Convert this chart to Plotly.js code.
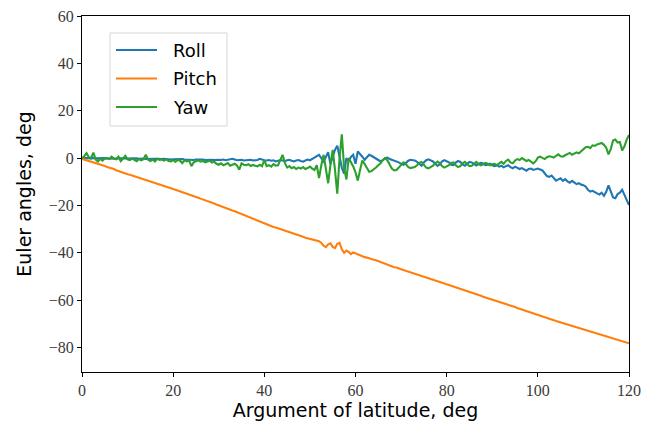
<!DOCTYPE html>
<html>
<head>
<meta charset="utf-8">
<script src="https://cdn.plot.ly/plotly-3.0.1.min.js"></script>
<style>
  html, body { margin: 0; padding: 0; background: #fff; }
  #chart { width: 657px; height: 428px; }
</style>
</head>
<body>
<div id="chart"></div>
<script>
// Sampling grid: argument of latitude, every 0.5 deg from 0 to 120
const STEP_DEG = 0.5;
const N_SAMPLES = 241;

// Roll angle, deg
const roll = [
  0.0, 0.1, -0.1, 0.0, -0.2, 0.1, -0.1, 0.0, -0.2, -0.1, 0.0, -0.1, -0.2, 0.0, -0.1, -0.2, -0.1, 0.0, -0.2, -0.1, -0.2,
  -0.1, -0.3, -0.2, -0.1, -0.3, -0.2, -0.2, -0.4, -0.3, -0.2, -0.4, -0.3, -0.3, -0.5, -0.4, -0.3, -0.5, -0.4, -0.6, -0.5,
  -0.4, -0.6, -0.5, -0.4, -0.6, -0.7, -0.5, -0.6, -0.8, -0.6, -0.5, -0.7, -0.6, -0.8, -0.7, -0.5, -0.7, -0.8, -0.6, -0.7,
  -0.8, -0.6, -0.9, -0.7, -0.8, -0.3, -0.6, -0.9, -0.8, -0.7, -1.0, -0.8, -0.9, -0.7, -1.0, -0.9, -0.8, -0.3, -0.7, -0.9,
  -1.0, -0.8, -1.1, -0.9, -1.4, -1.2, -0.8, -1.0, -1.3, -0.9, -0.7, -1.1, -1.4, -1.0, -0.8, -1.2, -1.5, -1.0, -0.6, -0.9,
  -0.5, 0.2, 0.8, 1.4, 0.0, -1.4, 0.5, 2.5, -2.5, 0.5, 3.5, 5.2, 1.0, -4.0, -6.5, 0.0, -1.2, 0.5, 1.4, -2.4,
  2.8, 1.8, 0.6, -0.7, 0.5, 1.4, 1.0, 0.3, -0.2, -0.8, -1.4, -0.9, 0.0, 0.2, -0.4, -0.7, -0.9, -1.3, -1.8, -2.4,
  -2.8, -2.2, -1.2, -0.7, -0.9, -1.0, -1.6, -2.6, -3.2, -1.8, -0.9, -0.5, -0.9, -1.4, -2.4, -3.3, -2.6, -1.4, -0.9, -1.2,
  -1.8, -2.8, -3.0, -1.9, -1.2, -1.6, -2.7, -3.2, -2.2, -1.6, -1.8, -2.6, -3.1, -2.4, -2.0, -2.3, -3.0, -2.8, -2.4, -3.0,
  -3.4, -3.0, -3.6, -3.2, -3.9, -3.4, -3.0, -3.8, -4.3, -3.6, -4.0, -4.6, -4.2, -4.8, -5.3, -4.6, -4.4, -5.0, -4.7, -4.4,
  -4.8, -5.2, -6.4, -7.6, -7.9, -7.4, -8.4, -9.5, -9.0, -8.5, -9.6, -8.9, -9.8, -10.4, -9.6, -10.2, -11.0, -10.6, -11.2, -11.4,
  -12.0, -13.4, -14.1, -13.8, -14.5, -14.9, -15.4, -14.6, -15.9, -14.2, -11.5, -13.8, -16.6, -16.9, -15.2, -14.6, -13.4, -15.5, -17.8, -19.8
];

// Pitch angle, deg
const pitch = [
  -0.3, -0.6, -0.8, -1.0, -1.4, -1.7, -2.0, -2.5, -2.7, -3.0, -3.3, -3.8, -4.0, -4.4, -4.6, -5.1, -5.5, -5.7, -6.1, -6.5, -6.8,
  -7.0, -7.3, -7.6, -8.0, -8.3, -8.5, -8.9, -9.3, -9.5, -9.8, -10.2, -10.4, -10.8, -11.2, -11.4, -11.7, -12.1, -12.4, -12.6, -13.0,
  -13.4, -13.7, -14.1, -14.3, -14.7, -15.0, -15.3, -15.7, -16.0, -16.4, -16.7, -17.1, -17.4, -17.8, -18.2, -18.5, -18.9, -19.2, -19.6, -20.0,
  -20.4, -20.6, -21.0, -21.4, -21.7, -22.1, -22.4, -22.8, -23.2, -23.5, -24.0, -24.4, -24.8, -25.2, -25.6, -26.0, -26.4, -26.9, -27.3, -27.7,
  -28.0, -28.4, -28.7, -29.1, -29.3, -29.6, -30.0, -30.3, -30.6, -31.0, -31.3, -31.6, -32.0, -32.3, -32.6, -32.8, -33.2, -33.6, -33.9, -34.2,
  -34.5, -34.6, -35.0, -35.1, -35.8, -37.0, -37.6, -36.4, -36.0, -37.5, -38.0, -36.2, -35.8, -38.5, -40.0, -39.0, -39.6, -40.5, -39.8, -40.2,
  -40.6, -41.3, -41.5, -41.8, -42.0, -42.4, -42.8, -42.9, -43.1, -43.5, -43.7, -44.0, -44.6, -45.0, -45.2, -45.6, -46.1, -46.2, -46.4, -46.9,
  -47.2, -47.5, -47.8, -48.1, -48.5, -48.7, -49.0, -49.4, -49.7, -50.0, -50.3, -50.7, -51.0, -51.3, -51.6, -52.0, -52.3, -52.6, -52.9, -53.3,
  -53.6, -53.9, -54.2, -54.5, -54.9, -55.2, -55.5, -55.8, -56.2, -56.5, -56.8, -57.2, -57.4, -57.8, -58.1, -58.5, -58.8, -59.0, -59.4, -59.7,
  -60.1, -60.3, -60.7, -61.0, -61.4, -61.6, -62.0, -62.3, -62.6, -62.9, -63.3, -63.6, -63.9, -64.2, -64.6, -64.9, -65.2, -65.5, -65.9, -66.2,
  -66.5, -66.8, -67.2, -67.5, -67.8, -68.1, -68.4, -68.8, -69.1, -69.4, -69.7, -70.0, -70.3, -70.6, -70.9, -71.2, -71.5, -71.8, -72.1, -72.4,
  -72.7, -73.0, -73.3, -73.6, -73.9, -74.2, -74.5, -74.8, -75.0, -75.3, -75.6, -75.9, -76.2, -76.4, -76.7, -77.0, -77.3, -77.6, -77.9, -78.2
];

// Yaw angle, deg
const yaw = [
  0.0, 0.8, 2.1, 0.4, 0.2, 2.3, -0.6, -1.4, -0.3, -1.1, -0.2, 0.0, -0.4, 0.6, -0.2, -0.5, 0.6, -1.3, -0.2, 1.0, -0.5,
  -0.8, -0.2, -0.6, -1.3, -0.4, -0.9, -0.5, 1.4, -0.7, -1.2, -0.6, -1.4, -0.3, -0.8, -0.6, -1.0, -0.5, -1.2, -1.4, -0.8,
  -1.6, -0.7, -1.1, -2.1, -0.9, -1.4, -1.0, -3.4, -1.8, -1.2, -0.9, -1.5, -1.2, -1.8, -1.4, -1.1, -1.9, -1.5, -2.4, -2.8,
  -2.2, -3.0, -2.6, -2.1, -3.2, -2.7, -2.4, -3.1, -4.9, -2.2, -2.8, -3.0, -2.6, -3.3, -2.9, -3.2, -3.5, -2.8, -3.4, -0.8,
  -3.4, -3.0, -3.6, -2.5, -3.2, -3.0, -1.0, 1.4, -2.0, -4.0, -3.4, -4.3, -3.8, -4.6, -4.0, -4.4, -3.8, -4.6, -4.2, -3.6,
  -4.4, -5.0, -3.0, -8.4, -3.0, 1.4, -4.5, -10.6, -3.0, 3.5, -5.0, -15.0, 0.0, 10.0, -4.0, -9.0, 0.0, -1.5, -3.5, -6.0,
  -9.5, -5.0, -1.0, -2.5, -4.5, -5.8, -5.5, -4.8, -4.0, -3.0, -2.2, -0.8, 0.0, -1.0, -3.0, -4.5, -5.2, -5.0, -4.0, -2.8,
  -1.8, -2.4, -3.6, -4.2, -4.0, -3.8, -3.0, -2.0, -1.6, -3.0, -4.0, -4.3, -3.8, -3.2, -2.2, -1.5, -2.2, -3.4, -4.0, -3.6,
  -3.0, -2.0, -1.8, -3.0, -3.8, -3.4, -2.2, -1.6, -2.6, -3.4, -3.2, -2.2, -1.6, -2.5, -3.0, -2.6, -2.0, -2.4, -3.0, -2.6,
  -2.4, -3.0, -2.2, -1.6, -2.4, -1.2, -0.6, -1.8, -2.2, -1.0, -0.4, -0.8, 0.0, -0.6, -1.2, -0.8, -1.6, -2.2, -1.4, 0.2,
  0.6, 0.2, -0.4, 0.4, 0.8, 0.6, 0.2, 1.0, 1.6, 0.8, 0.6, 1.2, 1.8, 2.2, 1.4, 1.8, 2.4, 2.0, 2.8, 3.6,
  4.6, 4.8, 4.2, 5.4, 5.2, 5.8, 6.0, 6.4, 5.6, 4.4, 1.6, 3.8, 7.4, 7.8, 6.6, 6.8, 3.2, 5.0, 7.8, 9.8
];

const seriesNames = ['Roll', 'Pitch', 'Yaw'];
const seriesColors = ['#1f77b4', '#ff7f0e', '#2ca02c'];
const xTicks = [0, 20, 40, 60, 80, 100, 120];
const yTicks = [-80, -60, -40, -20, 0, 20, 40, 60];

const argLat = [];
for (let i = 0; i < N_SAMPLES; i++) argLat.push(i * STEP_DEG);

const traces = [roll, pitch, yaw].map((vals, k) => ({
  type: 'scatter',
  mode: 'lines',
  x: argLat,
  y: vals,
  name: seriesNames[k],
  line: { color: seriesColors[k], width: 2.1 },
  hoverinfo: 'skip',
  showlegend: false
}));

// Plot-area geometry in pixels, used to place the boxed legend
const W = 657, H = 428;
const M = { l: 82, r: 28, t: 16, b: 56 };
const plotW = W - M.l - M.r, plotH = H - M.t - M.b;
const px2x = px => (px - M.l) / plotW;
const px2y = py => (H - M.b - py) / plotH;

const sansFamily = '"DejaVu Sans", "Noto Sans", sans-serif';
const tickFont = { family: '"Liberation Serif", "DejaVu Serif", serif', size: 16, color: '#3a3a3a' };
const titleFont = { family: sansFamily, size: 19, color: '#000' };

// Legend: frame, line samples and labels
const legBox = { x0: 110, x1: 227, y0: 33, y1: 126 };
const legRows = [50, 78.5, 107];
const shapes = [{
  type: 'rect', xref: 'paper', yref: 'paper', layer: 'above',
  x0: px2x(legBox.x0), x1: px2x(legBox.x1), y0: px2y(legBox.y1), y1: px2y(legBox.y0),
  line: { color: '#d6d6d6', width: 1 }, fillcolor: 'rgba(255,255,255,0.8)'
}];
const annotations = [];
seriesNames.forEach((nm, k) => {
  shapes.push({
    type: 'line', xref: 'paper', yref: 'paper', layer: 'above',
    x0: px2x(116), x1: px2x(157), y0: px2y(legRows[k]), y1: px2y(legRows[k]),
    line: { color: seriesColors[k], width: 2.1 }
  });
  annotations.push({
    xref: 'paper', yref: 'paper', x: px2x(171), y: px2y(legRows[k]),
    xanchor: 'left', yanchor: 'middle', showarrow: false,
    text: nm, font: { family: sansFamily, size: 18, color: '#000' }
  });
});

const axisCommon = {
  showgrid: false,
  zeroline: false,
  showline: true,
  linecolor: '#000',
  linewidth: 1,
  mirror: true,
  ticks: 'outside',
  ticklen: 4,
  tickwidth: 1,
  tickcolor: '#000',
  tickfont: tickFont
};

const layout = {
  width: W,
  height: H,
  margin: M,
  paper_bgcolor: '#fff',
  plot_bgcolor: '#fff',
  showlegend: false,
  xaxis: Object.assign({}, axisCommon, {
    range: [0, 120],
    tickvals: xTicks,
    title: { text: 'Argument of latitude, deg', font: titleFont, standoff: 5 }
  }),
  yaxis: Object.assign({}, axisCommon, {
    range: [-90.3, 60],
    tickvals: yTicks,
    title: { text: 'Euler angles, deg', font: titleFont, standoff: 12 }
  }),
  shapes: shapes,
  annotations: annotations
};

Plotly.newPlot('chart', traces, layout, { staticPlot: true, displayModeBar: false });
</script>
</body>
</html>
